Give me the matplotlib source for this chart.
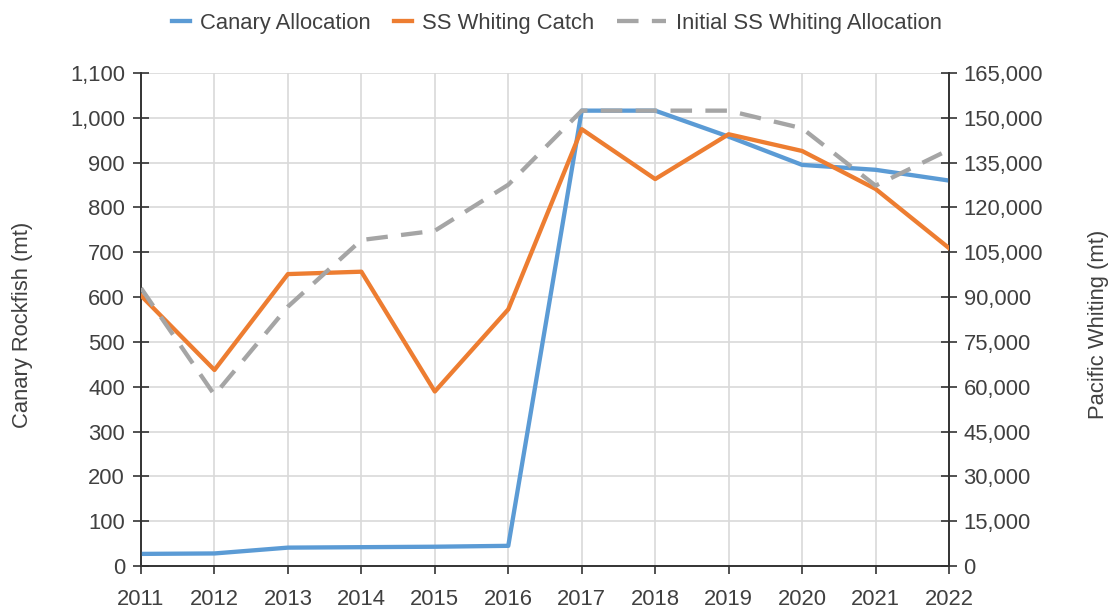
import matplotlib
matplotlib.use("Agg")
import matplotlib.pyplot as plt
from matplotlib.ticker import FuncFormatter, MultipleLocator
from matplotlib.legend_handler import HandlerLine2D

plt.rcParams['font.family'] = ['Liberation Sans', 'DejaVu Sans']

years = [2011, 2012, 2013, 2014, 2015, 2016, 2017, 2018, 2019, 2020, 2021, 2022]
canary_allocation = [27, 28, 41, 42, 43, 45, 1016, 1016, 958, 895, 884, 860]
ss_whiting_catch = [90500, 65600, 97700, 98500, 58400, 85900, 146200, 129500, 144500, 138900, 126200, 106400]
initial_ss_allocation = [93000, 57250, 86800, 109100, 112200, 127600, 152400, 152400, 152400, 146500, 127300, 139300]

W, H = 1108, 608
fig = plt.figure(figsize=(W / 100, H / 100), dpi=100)
ax = fig.add_axes([141 / W, 1 - 566 / H, (949 - 141) / W, (566 - 73) / H])
ax2 = ax.twinx()

text_color = '#404040'
axis_color = '#333333'
fs = 15.8
dash = (0, (5.0, 3.1))

l1, = ax.plot(years, canary_allocation, color='#5b9bd5', lw=3.1, label='Canary Allocation', zorder=3)
l2, = ax2.plot(years, ss_whiting_catch, color='#ed7d31', lw=3.1, label='SS Whiting Catch', zorder=3)
l3, = ax2.plot(years, initial_ss_allocation, color='#a5a5a5', lw=3.1, ls=dash,
               label='Initial SS Whiting Allocation', zorder=4)

ax.set_xlim(2011, 2022)
ax.set_ylim(0, 1100)
ax2.set_ylim(0, 165000)
ax.yaxis.set_major_locator(MultipleLocator(100))
ax2.yaxis.set_major_locator(MultipleLocator(15000))
ax.set_xticks(years)
fmt = FuncFormatter(lambda v, p: f"{int(round(v)):,}")
ax.yaxis.set_major_formatter(fmt)
ax2.yaxis.set_major_formatter(fmt)

ax.grid(True, color='#d9d9d9', lw=1.2)
ax.set_axisbelow(True)

for a in (ax, ax2):
    a.spines['top'].set_visible(False)
    for s in ('left', 'right', 'bottom'):
        a.spines[s].set_color(axis_color)
        a.spines[s].set_linewidth(1.2)
    a.tick_params(colors=axis_color, labelcolor=text_color, labelsize=fs,
                  length=11, width=1.2, direction='inout')

ax.tick_params(axis='x', direction='out', length=6, pad=10.5)
ax.tick_params(axis='y', pad=6)
ax2.tick_params(axis='y', pad=5)

ax.set_ylabel('Canary Rockfish (mt)', fontsize=fs, color=text_color)
ax2.set_ylabel('Pacific Whiting (mt)', fontsize=fs, color=text_color)
ax.yaxis.set_label_coords((33 - 141) / 808, 0.49)
ax2.yaxis.set_label_coords((1088 - 141) / 808, 0.49)

ax.set_zorder(1)
ax2.set_zorder(2)
ax2.patch.set_visible(False)


class WideHandler(HandlerLine2D):
    def __init__(self, factor=1.0, **kw):
        super().__init__(**kw)
        self.factor = factor

    def legend_artist(self, legend, orig_handle, fontsize, handlebox):
        handlebox.width = handlebox.width * self.factor
        return super().legend_artist(legend, orig_handle, fontsize, handlebox)


fs_px = fs * 100 / 72
fig.legend(handles=[l1, l2, l3], loc='center', bbox_to_anchor=(0.5 + 3 / W, 1 - 23 / H), ncol=3,
           frameon=False, fontsize=fs, handlelength=18 / fs_px, columnspacing=23 / fs_px,
           handletextpad=10 / fs_px, labelcolor=text_color,
           handler_map={l3: WideHandler(factor=49 / 18)})

fig.savefig('out.png', dpi=100, facecolor='white')
